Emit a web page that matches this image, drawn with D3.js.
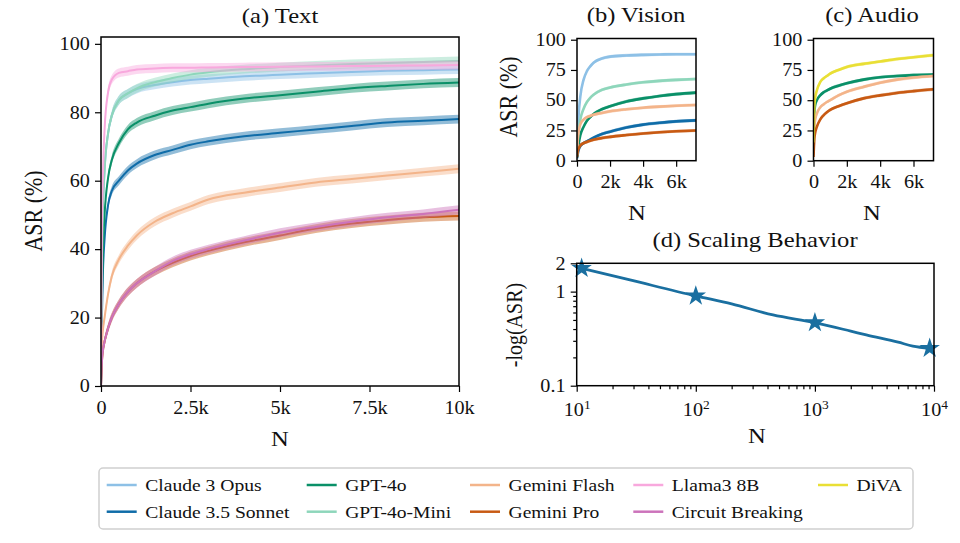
<!DOCTYPE html>
<html lang="en">
<head>
<meta charset="UTF-8">
<title>ASR scaling</title>
<script src="https://d3js.org/d3.v7.min.js"></script>
<style>
  body { margin: 0; background: #fff; }
  svg { font-family: "Liberation Serif", "DejaVu Serif", serif; }
  .domain { display: none; }
  .tick line { stroke: #000; stroke-width: 1.2; }
  .tick text { fill: #111; font-size: 18px; font-family: "Liberation Serif", "DejaVu Serif", serif; }
</style>
</head>
<body>
<svg width="960" height="543"></svg>
<script>
// ---- data ----
var models = ["Claude 3 Opus", "Claude 3.5 Sonnet", "GPT-4o", "GPT-4o-Mini", "Gemini Flash",
              "Gemini Pro", "Llama3 8B", "Circuit Breaking", "DiVA"];
var colors = ["#8dc0e6", "#0f6ca8", "#0a9068", "#8ed6bb", "#f3b48a",
              "#c85a13", "#f8a8dd", "#cc73bb", "#e9df35"];

// (a) Text
var nText = [0, 25, 50, 100, 200, 300, 500, 750, 1000, 1500, 2000, 2500, 3000, 4000, 5000, 6000, 7000, 8000, 9000, 10000];
var textOpus   = [0, 35, 50, 63, 74, 79, 83.5, 85.5, 86.8, 88, 88.8, 89.4, 89.8, 90.5, 91, 91.4, 91.8, 92.1, 92.3, 92.5];
var textSonnet = [0, 20, 32, 43, 53, 57, 60, 63, 65, 67.5, 69, 70.5, 71.5, 73, 74, 75, 76, 77, 77.5, 78];
var textGpt4o  = [0, 25, 38, 50, 61, 66, 71, 75, 77, 79, 80.5, 81.5, 82.5, 84, 85, 86, 87, 87.7, 88.3, 88.7];
var textMini   = [0, 35, 50, 63, 74, 79, 83.5, 85.5, 87, 88.8, 90, 91, 91.7, 92.6, 93.2, 93.7, 94.1, 94.4, 94.7, 95];
var textFlash  = [0, 12, 16, 20, 27, 32, 37, 41, 44, 48, 50.5, 52.5, 54.5, 56.5, 58, 59.5, 60.5, 61.5, 62.5, 63.5];
var textPro    = [0, 7, 10, 13, 17, 20, 24, 27.5, 30, 33.5, 36, 38, 39.5, 42, 44, 46, 47.5, 48.5, 49.3, 49.7];
var textLlama  = [0, 45, 60, 75, 86, 89.5, 91.5, 92, 92.5, 92.8, 93, 93, 93.1, 93.2, 93.3, 93.4, 93.5, 93.6, 93.7, 93.8];
var textCB     = [0, 7, 10, 13, 17, 20, 24, 27.5, 30, 33.5, 36.5, 38.5, 40, 42.5, 44.8, 46.5, 48, 49.3, 50.3, 51.5];

// (b) Vision and (c) Audio
var nMod = [0, 50, 100, 200, 400, 600, 800, 1000, 1500, 2000, 3000, 4000, 5000, 6000, 7200];
var visOpus   = [5, 25, 38, 53, 67, 74, 78, 81, 84.5, 86, 87, 87.5, 87.8, 88, 88];
var visSonnet = [2, 6, 9, 12, 14.5, 16, 17.5, 19, 22, 24, 27.5, 29.8, 31.3, 32.5, 33.3];
var visGpt4o  = [3, 10, 14, 21, 28, 33, 36, 38.5, 42.5, 45, 49, 51.5, 53.5, 55, 56.3];
var visMini   = [5, 18, 25, 34, 43, 48.5, 52, 54.5, 58.5, 60.5, 63, 64.8, 66, 66.8, 67.5];
var visFlash  = [5, 18, 24, 30, 34, 36, 37, 38, 39.5, 40.8, 42.5, 43.8, 44.7, 45.4, 46];
var visPro    = [3, 8, 10, 12.5, 14.5, 15.5, 16.5, 17.3, 18.7, 19.7, 21.2, 22.5, 23.5, 24.3, 25];

var audGpt4o = [10, 40, 46, 50, 54, 56.5, 58, 59.5, 62, 64, 67, 69, 70, 70.7, 71.2];
var audFlash = [5, 28, 34, 39, 44, 46.5, 48.5, 50, 54, 57, 61, 64.5, 67, 68.7, 70];
var audPro   = [3, 18, 23, 28, 34, 37.5, 40, 42, 45, 47.5, 51.5, 54, 56, 57.5, 59];
var audDiva  = [15, 45, 52, 58, 65, 68, 70, 72, 75, 77.5, 80, 82, 84, 85.5, 87.2];

// (d) Scaling behaviour
var nScale = [11, 28, 100, 200, 445, 1000, 2000, 2700, 5000, 6640, 9200];
var scaleVals = [1.77, 1.33, 0.90, 0.74, 0.565, 0.468, 0.38, 0.346, 0.29, 0.264, 0.25];
var starN = [11, 100, 1000, 9200];
var starVals = [1.77, 0.90, 0.468, 0.25];

// ---- helpers ----
var svg = d3.select("svg");
var SX = 1.12; // the reference text is a bit wide
var bandHalf = 1.3;

function label(x, y, str, size, rot, anchor) {
    var g = svg.append("g").attr("transform", "translate(" + x + "," + y + ")" + (rot ? " rotate(" + rot + ")" : ""));
    return g.append("text")
        .attr("transform", rot ? "scale(1," + SX + ")" : "scale(" + SX + ",1)")
        .attr("text-anchor", anchor || "middle")
        .style("font-size", size + "px")
        .style("fill", "#111")
        .text(str);
}

function frame(x0, y0, x1, y1) {
    svg.append("rect").attr("x", x0).attr("y", y0).attr("width", x1 - x0).attr("height", y1 - y0)
        .attr("fill", "none").attr("stroke", "#000").attr("stroke-width", 1.5);
}

function scaleText(g) {
    g.selectAll(".tick text").attr("transform", "scale(" + SX + ",1)");
}

function panel(box, xDomain, yDomain, xTicks, xFmt, yTicks, series) {
    var x = d3.scaleLinear().domain(xDomain).range([box[0], box[2]]);
    var y = d3.scaleLinear().domain(yDomain).range([box[3], box[1]]);
    var clip = "clip" + Math.round(box[0]);
    svg.append("clipPath").attr("id", clip).append("rect")
        .attr("x", box[0]).attr("y", box[1]).attr("width", box[2] - box[0]).attr("height", box[3] - box[1]);
    var g = svg.append("g").attr("clip-path", "url(#" + clip + ")");
    series.forEach(function (s) {
        var pts = s.n.map(function (n, i) { return [n, s.v[i]]; });
        var area = d3.area().curve(d3.curveMonotoneX)
            .x(function (d) { return x(d[0]); })
            .y0(function (d) { return y(Math.max(0, d[1] - bandHalf)); })
            .y1(function (d) { return y(d[1] + bandHalf); });
        var line = d3.line().curve(d3.curveMonotoneX)
            .x(function (d) { return x(d[0]); })
            .y(function (d) { return y(d[1]); });
        g.append("path").attr("d", area(pts)).attr("fill", s.c).attr("opacity", 0.45);
        g.append("path").attr("d", line(pts)).attr("fill", "none").attr("stroke", s.c)
            .attr("stroke-width", s.w || 2).attr("stroke-linejoin", "round");
    });
    var gx = svg.append("g").attr("transform", "translate(0," + box[3] + ")")
        .call(d3.axisBottom(x).tickValues(xTicks).tickFormat(xFmt).tickSize(6).tickPadding(9));
    var gy = svg.append("g").attr("transform", "translate(" + box[0] + ",0)")
        .call(d3.axisLeft(y).tickValues(yTicks).tickFormat(d3.format("d")).tickSize(6).tickPadding(4));
    scaleText(gx); scaleText(gy);
    frame(box[0], box[1], box[2], box[3]);
}

function kFmt(d) { return d === 0 ? "0" : (d / 1000) + "k"; }

// ---- (a) Text ----
var textSeries = [
    {v: textOpus, c: colors[0]}, {v: textSonnet, c: colors[1]}, {v: textGpt4o, c: colors[2]},
    {v: textMini, c: colors[3]}, {v: textFlash, c: colors[4]}, {v: textPro, c: colors[5]},
    {v: textLlama, c: colors[6]}, {v: textCB, c: colors[7]}
].map(function (s) { s.n = nText; return s; });
panel([101, 37, 459, 386], [0, 10000], [0, 102], [0, 2500, 5000, 7500, 10000], kFmt,
      [0, 20, 40, 60, 80, 100], textSeries);
label(280, 23, "(a) Text", 22);
label(280, 446, "N", 22);
label(42, 211, "ASR (%)", 22, -90);

// ---- (b) Vision ----
var visSeries = [
    {v: visOpus, c: colors[0]}, {v: visSonnet, c: colors[1]}, {v: visGpt4o, c: colors[2]},
    {v: visMini, c: colors[3]}, {v: visFlash, c: colors[4]}, {v: visPro, c: colors[5]}
].map(function (s) { s.n = nMod; s.w = 2.6; return s; });
panel([577, 38.5, 696, 160.7], [0, 7200], [0, 101], [0, 2000, 4000, 6000], kFmt,
      [0, 25, 50, 75, 100], visSeries);
label(636, 22, "(b) Vision", 22);
label(637, 220, "N", 22);
label(517, 97, "ASR (%)", 22, -90);

// ---- (c) Audio ----
var audSeries = [
    {v: audGpt4o, c: colors[2]}, {v: audFlash, c: colors[4]}, {v: audPro, c: colors[5]}, {v: audDiva, c: colors[8]}
].map(function (s) { s.n = nMod; s.w = 2.6; return s; });
panel([813.5, 38.5, 933.5, 160.7], [0, 7200], [0, 101], [0, 2000, 4000, 6000], kFmt,
      [0, 25, 50, 75, 100], audSeries);
label(872, 22, "(c) Audio", 22);
label(872, 220, "N", 22);

// ---- (d) Scaling Behavior ----
(function () {
    var box = [576.7, 263.3, 934, 385.7];
    var x = d3.scaleLog().domain([10, 10000]).range([box[0], box[2]]);
    var y = d3.scaleLog().domain([0.1, 2]).range([box[3], box[1]]);
    var pts = nScale.map(function (n, i) { return [n, scaleVals[i]]; });
    var line = d3.line().curve(d3.curveMonotoneX)
        .x(function (d) { return x(d[0]); }).y(function (d) { return y(d[1]); });
    svg.append("path").attr("d", line(pts)).attr("fill", "none")
        .attr("stroke", "#1a6fa0").attr("stroke-width", 2.8);
    svg.selectAll(".star").data(starN).enter().append("path")
        .attr("transform", function (d, i) { return "translate(" + x(d) + "," + y(starVals[i]) + ")"; })
        .attr("d", d3.symbol().type(d3.symbolStar).size(130))
        .attr("fill", "#1a6fa0");

    var minorX = [];
    [10, 100, 1000].forEach(function (b) { for (var k = 2; k <= 9; k++) minorX.push(b * k); });
    svg.append("g").attr("transform", "translate(0," + box[3] + ")")
        .call(d3.axisBottom(x).tickValues(minorX).tickFormat("").tickSize(3.5));
    var gx = svg.append("g").attr("transform", "translate(0," + box[3] + ")")
        .call(d3.axisBottom(x).tickValues([10, 100, 1000, 10000]).tickFormat("").tickSize(6));
    gx.selectAll(".tick").append("text")
        .attr("y", 30).attr("text-anchor", "middle").attr("fill", "#111")
        .attr("transform", "scale(" + SX + ",1)")
        .each(function (d) {
            var t = d3.select(this);
            t.append("tspan").text("10");
            t.append("tspan").attr("dy", -7).style("font-size", "12px").text(Math.round(Math.log10(d)));
        });
    var minorY = [0.2, 0.3, 0.4, 0.5, 0.6, 0.7, 0.8, 0.9];
    svg.append("g").attr("transform", "translate(" + box[0] + ",0)")
        .call(d3.axisLeft(y).tickValues(minorY).tickFormat("").tickSize(3.5));
    var gy = svg.append("g").attr("transform", "translate(" + box[0] + ",0)")
        .call(d3.axisLeft(y).tickValues([0.1, 1, 2]).tickFormat(function (d) { return d === 0.1 ? "0.1" : d; })
            .tickSize(6).tickPadding(4));
    scaleText(gy);
    frame(box[0], box[1], box[2], box[3]);
    label(755, 247, "(d) Scaling Behavior", 22);
    label(757, 443, "N", 22);
    label(522, 325, "-log(ASR)", 20, -90);
})();

// ---- legend ----
svg.append("rect").attr("x", 99).attr("y", 468).attr("width", 814).attr("height", 61)
    .attr("rx", 4).attr("fill", "#fff").attr("stroke", "#d0d0d0").attr("stroke-width", 1.5);
var legCols = [106.7, 306.7, 470, 633.3, 818];
var legRows = [485, 511.7];
models.forEach(function (m, i) {
    var cx = legCols[Math.floor(i / 2)], cy = legRows[i % 2];
    svg.append("line").attr("x1", cx).attr("x2", cx + 30).attr("y1", cy).attr("y2", cy)
        .attr("stroke", colors[i]).attr("stroke-width", 2.5);
    label(cx + 38.5, cy + 6, m, 17.5, 0, "start");
});
</script>
</body>
</html>
